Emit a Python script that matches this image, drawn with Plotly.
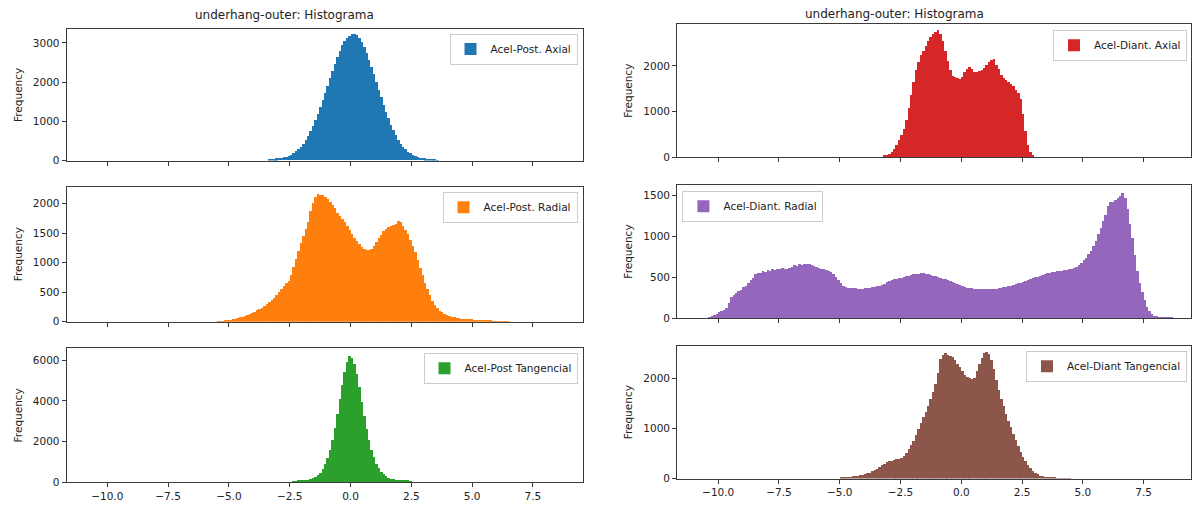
import numpy as np
import plotly.graph_objects as go

# ---------------- data (histogram counts per 0.1-wide bin) ----------------
BIN = 0.1

post_axial_start = -3.4
post_axial = [20, 30, 40, 50, 60, 70, 80, 100, 120, 150, 190, 230, 290, 350, 430, 520,
              620, 740, 870, 1020, 1180, 1350, 1530, 1720, 1910, 2100, 2290, 2470, 2640,
              2800, 2940, 3050, 3130, 3180, 3230, 3220, 3190, 3120, 3020, 2890, 2740, 2570,
              2390, 2200, 2000, 1800, 1610, 1420, 1240, 1070, 910, 770, 640, 530, 430, 350,
              280, 220, 180, 140, 110, 90, 70, 60, 50, 40, 35, 30, 20, 10]

post_radial_start = -5.5
post_radial = [5, 10, 15, 20, 25, 35, 45, 55, 65, 75, 85, 100, 115, 135, 155, 175, 195, 215,
               235, 265, 295, 330, 365, 410, 460, 510, 560, 610, 650, 700, 800, 930, 1060,
               1200, 1340, 1460, 1580, 1690, 1880, 2020, 2110, 2160, 2140, 2150, 2110, 2080,
               2030, 1980, 1920, 1850, 1790, 1740, 1690, 1620, 1550, 1480, 1420, 1370, 1310,
               1260, 1230, 1210, 1220, 1240, 1280, 1350, 1420, 1470, 1530, 1570, 1600, 1620,
               1640, 1660, 1700, 1690, 1620, 1560, 1480, 1390, 1280, 1180, 1050, 920, 790,
               660, 550, 450, 360, 290, 230, 190, 160, 130, 110, 95, 85, 75, 65, 60, 55, 50,
               48, 45, 42, 40, 38, 35, 30, 25, 22, 20, 18, 15, 12, 10, 8, 7, 6, 5]

post_tang_start = -2.4
post_tang = [30, 40, 50, 60, 70, 85, 100, 130, 170, 240, 330, 460, 640, 880, 1180, 1560,
             2050, 2650, 3350, 4050, 4750, 5400, 5900, 6180, 6100, 5800, 5300, 4650, 3950,
             3250, 2600, 2050, 1580, 1200, 900, 680, 500, 370, 280, 210, 160, 130, 105, 90,
             75, 65, 55, 45, 40]

diant_axial_start = -3.2
diant_axial = [30, 50, 70, 110, 180, 260, 360, 480, 620, 820, 1080, 1360, 1640, 1900, 2090,
               2230, 2320, 2420, 2530, 2620, 2690, 2740, 2780, 2690, 2550, 2330, 2100, 1900,
               1780, 1760, 1740, 1700, 1760, 1860, 1930, 1960, 1920, 1870, 1860, 1880, 1900,
               1940, 2010, 2070, 2120, 2140, 2020, 1920, 1790, 1720, 1680, 1650, 1590, 1550,
               1470, 1400, 1260, 950, 560, 260, 100, 30]

diant_radial_start = -10.5
diant_radial = [5, 12, 25, 40, 60, 75, 90, 105, 130, 190, 265, 290, 310, 335, 350, 380, 400,
                430, 465, 500, 545, 560, 555, 575, 570, 590, 585, 600, 595, 610, 600, 615,
                610, 605, 620, 630, 650, 645, 660, 655, 670, 665, 660, 650, 640, 625, 620,
                610, 605, 595, 585, 570, 545, 510, 470, 430, 400, 385, 378, 372, 370, 368,
                365, 366, 364, 370, 372, 375, 380, 385, 395, 402, 412, 425, 440, 462, 470,
                478, 485, 492, 498, 505, 515, 525, 535, 540, 545, 548, 552, 550, 548, 545,
                535, 525, 515, 505, 495, 485, 478, 472, 462, 450, 438, 425, 410, 398, 388,
                378, 372, 368, 362, 360, 358, 356, 355, 356, 354, 357, 358, 362, 368, 374,
                380, 386, 395, 402, 410, 420, 428, 438, 448, 458, 468, 478, 490, 505, 512,
                525, 535, 545, 550, 558, 565, 570, 575, 580, 585, 590, 595, 600, 610, 620,
                635, 655, 680, 710, 745, 785, 830, 885, 945, 1030, 1110, 1190, 1270, 1370,
                1420, 1430, 1450, 1480, 1500, 1540, 1470, 1340, 1150, 990, 780, 580, 430,
                320, 220, 145, 95, 60, 35, 25, 18, 15, 13, 12, 10, 8]

diant_tang_start = -5.0
diant_tang = [20, 22, 25, 30, 38, 45, 55, 62, 70, 80, 95, 105, 120, 145, 170, 200, 240, 270,
              300, 330, 345, 360, 375, 385, 400, 420, 455, 515, 590, 670, 750, 870, 990,
              1120, 1230, 1340, 1460, 1600, 1740, 1900, 2120, 2400, 2480, 2510, 2480, 2460,
              2430, 2370, 2300, 2230, 2150, 2080, 2030, 2010, 2000, 2020, 2150, 2300, 2420,
              2520, 2540, 2500, 2380, 2200, 1980, 1780, 1600, 1450, 1300, 1160, 1030, 900,
              780, 650, 530, 430, 350, 270, 210, 160, 120, 85, 60, 45, 35, 28, 22, 18, 15,
              12, 10, 8, 6, 5, 4]

series_names = ["Acel-Post. Axial", "Acel-Post. Radial", "Acel-Post Tangencial",
                "Acel-Diant. Axial", "Acel-Diant. Radial", "Acel-Diant Tangencial"]
series_starts = [post_axial_start, post_radial_start, post_tang_start,
                 diant_axial_start, diant_radial_start, diant_tang_start]
series_counts = [post_axial, post_radial, post_tang, diant_axial, diant_radial, diant_tang]
colors = ["#1f77b4", "#ff7f0e", "#2ca02c", "#d62728", "#9467bd", "#8c564b"]

title_text = "underhang-outer: Histograma"
x_tickvals = [-10.0, -7.5, -5.0, -2.5, 0.0, 2.5, 5.0, 7.5]
x_ticktext = ["\u221210.0", "\u22127.5", "\u22125.0", "\u22122.5", "0.0", "2.5", "5.0", "7.5"]
y_tickvals = [[0, 1000, 2000, 3000], [0, 500, 1000, 1500, 2000], [0, 2000, 4000, 6000],
              [0, 1000, 2000], [0, 500, 1000, 1500], [0, 1000, 2000]]
y_max = [3350, 2283, 6580, 2913, 1633, 2653]

# ---------------- layout geometry (pixels) ----------------
W, H = 1192, 509
col_x = [(66.7, 583.3), (677.7, 1192.0)]
x_ranges = [(-11.67, 9.55), (-11.69, 9.45)]
row_y = [[(29.5, 162.5), (189.0, 325.5), (352.5, 488.0)],
         [(24.5, 159.0), (187.0, 322.0), (350.0, 484.3)]]
# legend boxes: (anchor x px, top y px, xanchor)
legend_pos = [(578, 34, "right"), (578, 194, "right"), (578, 357, "right"),
              (1188, 30, "right"), (683, 193, "left"), (1188, 355, "right")]

FONT = "DejaVu Sans"
TXT = "#222222"
AX = "#3a3a3a"

fig = go.Figure()
layout_updates = {}
for i in range(6):
    col, row = divmod(i, 3)
    counts = np.array(series_counts[i], dtype=float)
    centers = series_starts[i] + BIN * (np.arange(len(counts)) + 0.5)
    ax_id = "" if i == 0 else str(i + 1)
    leg_id = "legend" if i == 0 else f"legend{i + 1}"
    fig.add_trace(go.Bar(
        x=centers, y=counts, width=BIN * 1.08, name=series_names[i],
        marker=dict(color=colors[i], line=dict(width=0)),
        xaxis="x" + ax_id, yaxis="y" + ax_id, legend=leg_id, showlegend=True,
    ))
    x0, x1 = col_x[col]
    yt, yb = row_y[col][row]
    bottom = row == 2
    layout_updates["xaxis" + ax_id] = dict(
        domain=[x0 / W, min(x1 / W, 1.0)], range=list(x_ranges[col]),
        anchor="y" + ax_id, showgrid=False, zeroline=False,
        showline=True, mirror=True, linecolor=AX, linewidth=1,
        ticks="outside", ticklen=4, tickcolor=AX, tickwidth=1,
        tickmode="array", tickvals=x_tickvals,
        ticktext=x_ticktext if bottom else [""] * len(x_tickvals),
        showticklabels=bottom,
        tickfont=dict(family=FONT, size=10.5, color=TXT),
    )
    layout_updates["yaxis" + ax_id] = dict(
        domain=[1 - yb / H, 1 - yt / H], range=[0, y_max[i]],
        anchor="x" + ax_id, showgrid=False, zeroline=False,
        showline=True, mirror=True, linecolor=AX, linewidth=1,
        ticks="outside", ticklen=4, tickcolor=AX, tickwidth=1,
        tickmode="array", tickvals=y_tickvals[i],
        tickfont=dict(family=FONT, size=10.5, color=TXT),
        title=dict(text="Frequency", font=dict(family=FONT, size=10.5, color=TXT), standoff=8),
    )
    lx, ly, xa = legend_pos[i]
    layout_updates[leg_id] = dict(
        x=lx / W, y=1 - ly / H, xanchor=xa, yanchor="top",
        bgcolor="rgba(255,255,255,0.8)", bordercolor="#cccccc", borderwidth=1,
        font=dict(family=FONT, size=10.5, color=TXT),
        itemwidth=30, tracegroupgap=0,
    )

fig.update_layout(
    width=W, height=H, margin=dict(l=0, r=0, t=0, b=0),
    paper_bgcolor="white", plot_bgcolor="white",
    bargap=0, barmode="overlay", showlegend=True,
    font=dict(family=FONT, size=10.5, color=TXT),
    annotations=[
        dict(text=title_text, x=285 / W, y=1 - 15.5 / H, xref="paper", yref="paper",
             xanchor="center", yanchor="middle", showarrow=False,
             font=dict(family=FONT, size=12, color=TXT)),
        dict(text=title_text, x=895 / W, y=1 - 14.5 / H, xref="paper", yref="paper",
             xanchor="center", yanchor="middle", showarrow=False,
             font=dict(family=FONT, size=12, color=TXT)),
    ],
    **layout_updates,
)

fig.write_html("out.html")
